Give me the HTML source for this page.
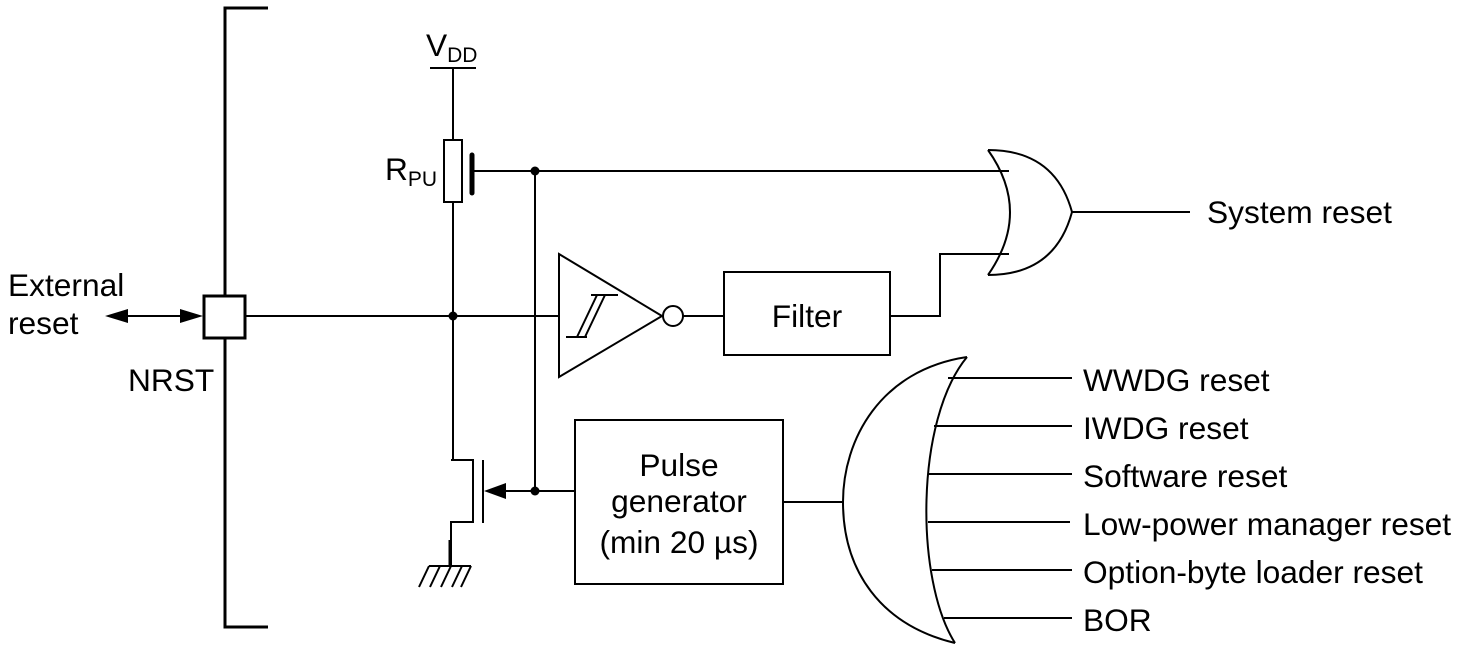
<!DOCTYPE html>
<html><head><style>
html,body{margin:0;padding:0;background:#fff;}
svg{display:block;}
text{font-family:"Liberation Sans",Arial,sans-serif;fill:#000;}
</style></head><body>
<svg width="1461" height="656" viewBox="0 0 1461 656" xmlns="http://www.w3.org/2000/svg">
<g fill="none" stroke="#000" stroke-width="2">
<path d="M268 8 H225 V627 H268" stroke-width="3"/>
<rect x="204" y="296" width="41" height="42" fill="#fff" stroke-width="3"/>
<line x1="112" y1="316" x2="196" y2="316"/>
<line x1="246" y1="316" x2="559" y2="316"/>
<line x1="430" y1="68" x2="476" y2="68"/>
<line x1="453" y1="68" x2="453" y2="140"/>
<rect x="444" y="140" width="18" height="62"/>
<line x1="453" y1="202" x2="453" y2="460"/>
<line x1="472" y1="155" x2="472" y2="193" stroke-width="5" stroke-linecap="round"/>
<line x1="474" y1="171" x2="1009" y2="171"/>
<line x1="535" y1="171" x2="535" y2="491"/>
<path d="M451 460 H473 V522 H451 V566"/>
<line x1="450" y1="540" x2="450" y2="566" stroke-width="3"/>
<line x1="483" y1="460" x2="483" y2="523"/>
<line x1="505" y1="491" x2="575" y2="491"/>
<line x1="429" y1="566" x2="471" y2="566"/>
<path d="M429 566 L419 587 M440 566 L430 587 M451 566 L441 587 M462 566 L452 587 M471 566 L461 587"/>
<path d="M559 254 L662 316 L559 377 Z"/>
<path d="M566 337 H587 M577 337 L597 295 M585 337 L605 295 M591 295 H618"/>
<circle cx="673" cy="316" r="10"/>
<line x1="683" y1="316" x2="724" y2="316"/>
<rect x="724" y="272" width="166" height="83"/>
<path d="M890 316 H940 V254 H1009"/>
<path d="M988 150 Q1032 212 988 275"/>
<path d="M988 150 Q1055 150 1072 212 Q1055 275 988 275"/>
<line x1="1072" y1="212" x2="1190" y2="212"/>
<rect x="575" y="420" width="208" height="164"/>
<line x1="783" y1="502" x2="843" y2="502"/>
<path d="M967 357 C915 420 915 580 955 643"/>
<path d="M967 357 C880 370 843 440 843 502 C843 570 880 625 955 643"/>
<path d="M948 378 H1072 M934 426 H1072 M928 474 H1072 M928 522 H1070 M932 570 H1072 M944 618 H1072"/>
</g>
<g fill="#000">
<polygon points="105,316 128,309 128,323"/>
<polygon points="203,316 180,309 180,323"/>
<polygon points="484,491 506,483 506,499"/>
<circle cx="453" cy="316" r="4.5"/>
<circle cx="535" cy="171" r="4.5"/>
<circle cx="535" cy="491" r="4.5"/>
</g>
<g font-size="31.7">
<text x="426" y="56">V<tspan font-size="21" dy="6">DD</tspan></text>
<text x="385" y="180">R<tspan font-size="21" dy="6">PU</tspan></text>
<text x="8" y="296">External</text>
<text x="8" y="334">reset</text>
<text x="128" y="391">NRST</text>
<text x="807" y="327" text-anchor="middle">Filter</text>
<text x="679" y="476" text-anchor="middle">Pulse</text>
<text x="679" y="512" text-anchor="middle">generator</text>
<text x="679" y="553" text-anchor="middle">(min 20 µs)</text>
<text x="1207" y="223">System reset</text>
<text x="1083" y="391">WWDG reset</text>
<text x="1083" y="439">IWDG reset</text>
<text x="1083" y="487">Software reset</text>
<text x="1083" y="535">Low-power manager reset</text>
<text x="1083" y="583">Option-byte loader reset</text>
<text x="1083" y="631">BOR</text>
</g>
</svg>
</body></html>
